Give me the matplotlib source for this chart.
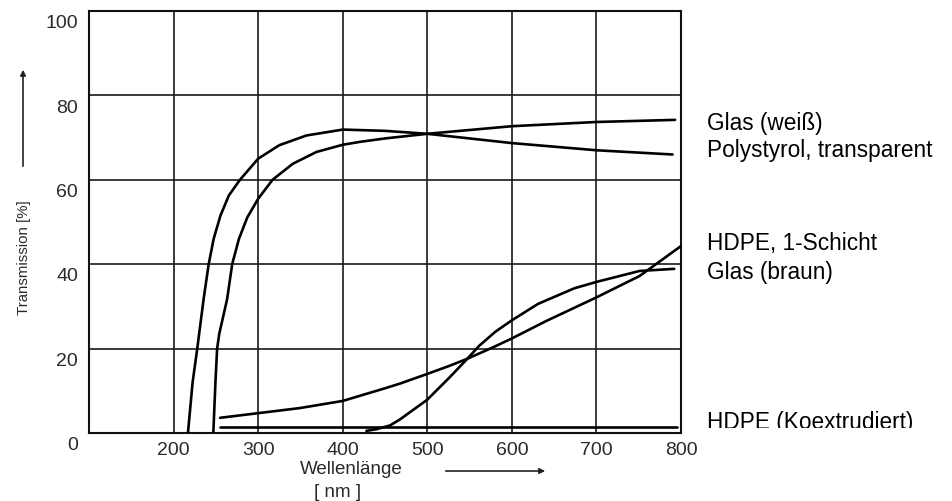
import matplotlib
matplotlib.use("Agg")
import matplotlib.pyplot as plt
from matplotlib.transforms import ScaledTranslation, Bbox

plt.rcParams['font.family'] = ['Liberation Sans', 'DejaVu Sans']

# Werte (Wellenlänge in nm, Transmission in %)
gw_wl = [247, 249.5, 251.5, 254, 257.4, 263.3, 269.3, 277.3, 287.2, 300, 317, 341, 369, 400,
         420.7, 450, 500, 600, 700, 793]
gw_T = [0, 12, 20, 23.5, 26.5, 31.7, 40, 46, 51.1, 55.5, 60, 63.8, 66.6, 68.3,
        69, 69.8, 70.9, 72.7, 73.7, 74.2]

ps_wl = [217, 222.5, 228, 235.5, 241.5, 247.4, 255.4, 265.4, 278.5, 300, 325, 357, 400,
         450, 500, 600, 700, 790]
ps_T = [0, 12, 20, 31.7, 40, 46, 51.5, 56.3, 60, 65, 68.2, 70.5, 71.9,
        71.6, 70.9, 68.7, 67, 66]

h1_wl = [255, 300, 349, 400, 450, 467.6, 500, 526, 547.4, 576.6, 600, 640.2, 698.6, 751, 800]
h1_T = [3.6, 4.7, 5.9, 7.6, 10.6, 11.7, 14.0, 15.9, 17.6, 20.2, 22.4, 26.5, 32, 37.2, 44.3]

gb_wl = [428, 440, 456, 467.6, 500, 526, 547.4, 561, 580.5, 600, 631, 674, 700, 751, 792]
gb_T = [0.5, 0.9, 1.8, 3.2, 7.9, 13.1, 17.6, 20.6, 24.0, 26.7, 30.6, 34.3, 35.8, 38.4, 38.9]

hk_wl = [255, 795]
hk_T = [1.4, 1.4]

x_ticks = [200, 300, 400, 500, 600, 700, 800]
y_ticks = [0, 20, 40, 60, 80, 100]

# (Text, Grundlinie in Pixeln von oben)
labels = [("Glas (weiß)", 130), ("Polystyrol, transparent", 157),
          ("HDPE, 1-Schicht", 250), ("Glas (braun)", 279),
          ("HDPE (Koextrudiert)", 429)]

W, H = 953, 502
fig = plt.figure(figsize=(W / 100, H / 100), dpi=100)
ax = fig.add_axes([89 / W, 1 - 434 / H, (681 - 89) / W, (434 - 12) / H])

for wl, T in [(gw_wl, gw_T), (ps_wl, ps_T), (h1_wl, h1_T), (gb_wl, gb_T), (hk_wl, hk_T)]:
    ax.plot(wl, T, color='black', lw=1.9, zorder=3, solid_capstyle='round',
            solid_joinstyle='round')

ax.set_xlim(100, 800)
ax.set_ylim(0, 100)
ax.set_xticks(x_ticks)
ax.set_yticks(y_ticks)
ax.grid(True, color='#1a1a1a', lw=1.2)
ax.set_axisbelow(True)
for s in ax.spines.values():
    s.set_linewidth(1.5)
    s.set_color('#111111')
ax.tick_params(length=0, labelsize=14, labelcolor='#2a2a2a')
ax.tick_params(axis='y', pad=8)
ax.tick_params(axis='x', pad=6)
off = ScaledTranslation(0, -7 / 72, fig.dpi_scale_trans)
for lab in ax.get_yticklabels():
    lab.set_transform(lab.get_transform() + off)

# Achsenbeschriftungen
fig.text(24 / W, 1 - 258 / H, "Transmission [%]", rotation=90, ha='center', va='center',
         fontsize=10.8, color='#2a2a2a')
fig.text(351 / W, 1 - 470 / H, "Wellenlänge", ha='center', va='center', fontsize=13.5, color='#2a2a2a')
fig.text(338 / W, 1 - 493 / H, "[ nm ]", ha='center', va='center', fontsize=13.5, color='#2a2a2a')

ax.annotate('', xy=(23, H - 68), xytext=(23, H - 170), xycoords='figure pixels',
            textcoords='figure pixels',
            arrowprops=dict(arrowstyle='-|>', color='#222222', lw=1.2, mutation_scale=8))
ax.annotate('', xy=(548, H - 472), xytext=(443, H - 472), xycoords='figure pixels',
            textcoords='figure pixels',
            arrowprops=dict(arrowstyle='-|>', color='#222222', lw=1.2, mutation_scale=8))

for txt, yb in labels:
    t = fig.text(707 / W, 1 - yb / H, txt, ha='left', va='baseline', fontsize=16.3, color='black')
    if txt.startswith("HDPE (K"):
        t.set_clip_box(Bbox.from_extents(0, H - yb + 0.5, W, H))
        t.set_clip_on(True)

fig.savefig("out.png", dpi=100)
